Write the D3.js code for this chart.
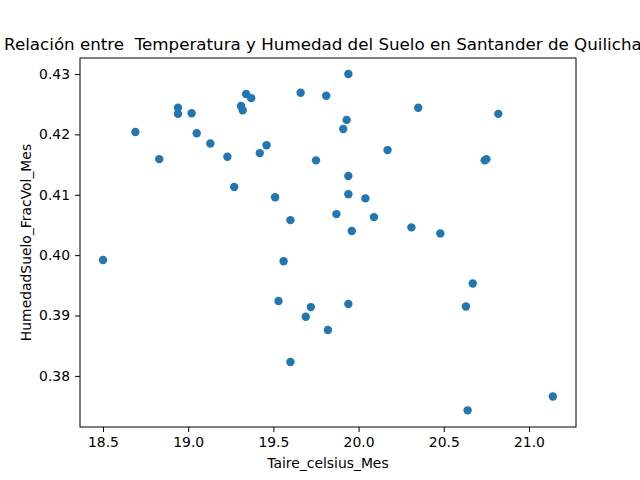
<!DOCTYPE html>
<html>
<head>
<meta charset="utf-8">
<script src="https://cdn.jsdelivr.net/npm/d3@7"></script>
<style>
  body { margin: 0; background: #fff; }
  text { font-family: "DejaVu Sans", sans-serif; }
</style>
</head>
<body>
<svg id="chart" width="640" height="480"></svg>
<script>
var taire = [18.50, 18.69, 18.83, 18.94, 18.94, 19.02, 19.05, 19.13, 19.23, 19.27,
  19.31, 19.32, 19.34, 19.37, 19.42, 19.46, 19.51, 19.53, 19.56, 19.60,
  19.60, 19.69, 19.72, 19.75, 19.82, 19.81, 19.87, 19.91, 19.93, 19.94,
  19.94, 19.94, 19.94, 19.96, 20.04, 20.09, 20.17, 20.31, 20.35, 20.48,
  20.63, 20.67, 20.64, 20.74, 20.75, 20.82, 21.14, 19.66];
var humedad = [0.3992, 0.4204, 0.4159, 0.4244, 0.4234, 0.4235, 0.4202, 0.4185, 0.4163, 0.4113,
  0.4247, 0.4240, 0.4267, 0.4260, 0.4169, 0.4182, 0.4096, 0.3924, 0.3990, 0.4058,
  0.3823, 0.3898, 0.3914, 0.4157, 0.3876, 0.4264, 0.4068, 0.4209, 0.4224, 0.4300,
  0.4131, 0.4101, 0.3919, 0.4040, 0.4094, 0.4063, 0.4174, 0.4046, 0.4244, 0.4036,
  0.3915, 0.3953, 0.3743, 0.4157, 0.4159, 0.4234, 0.3766, 0.4269];
var xTicks = [18.5, 19.0, 19.5, 20.0, 20.5, 21.0];
var yTicks = [0.38, 0.39, 0.40, 0.41, 0.42, 0.43];

var mLeft = 80, mRight = 576, mTop = 58, mBottom = 427;
var svg = d3.select("#chart");

var x = d3.scaleLinear().domain([18.365, 21.276]).range([mLeft, mRight]);
var y = d3.scaleLinear().domain([0.37154, 0.43265]).range([mBottom, mTop]);

svg.append("g")
    .attr("transform", "translate(0," + mBottom + ")")
    .call(d3.axisBottom(x).tickValues(xTicks).tickFormat(d3.format(".1f")).tickSizeOuter(0).tickSize(5).tickPadding(5))
    .call(g => g.select(".domain").remove())
    .selectAll("text").attr("font-size", 13.9).attr("fill", "#000").style("font-family", "DejaVu Sans");

svg.append("g")
    .attr("transform", "translate(" + mLeft + ",0)")
    .call(d3.axisLeft(y).tickValues(yTicks).tickFormat(d3.format(".2f")).tickSizeOuter(0).tickSize(5).tickPadding(5))
    .call(g => g.select(".domain").remove())
    .selectAll("text").attr("font-size", 13.9).attr("fill", "#000").style("font-family", "DejaVu Sans");

svg.append("rect")
    .attr("x", mLeft).attr("y", mTop)
    .attr("width", mRight - mLeft).attr("height", mBottom - mTop)
    .attr("fill", "none").attr("stroke", "#000").attr("stroke-width", 1);

svg.append("g").selectAll("circle")
    .data(taire)
    .enter().append("circle")
    .attr("cx", function(d) { return x(d); })
    .attr("cy", function(d, i) { return y(humedad[i]); })
    .attr("r", 4.2)
    .attr("fill", "#1f77b4");

svg.append("text")
    .attr("x", (mLeft + mRight) / 2).attr("y", 50)
    .attr("text-anchor", "middle").attr("font-size", 16.7)
    .style("white-space", "pre")
    .text("Relación entre  Temperatura y Humedad del Suelo en Santander de Quilichao");

svg.append("text")
    .attr("x", (mLeft + mRight) / 2).attr("y", 468)
    .attr("text-anchor", "middle").attr("font-size", 13.9)
    .text("Taire_celsius_Mes");

svg.append("text")
    .attr("transform", "translate(31," + (mTop + mBottom) / 2 + ") rotate(-90)")
    .attr("text-anchor", "middle").attr("font-size", 13.9)
    .text("HumedadSuelo_FracVol_Mes");
</script>
</body>
</html>
